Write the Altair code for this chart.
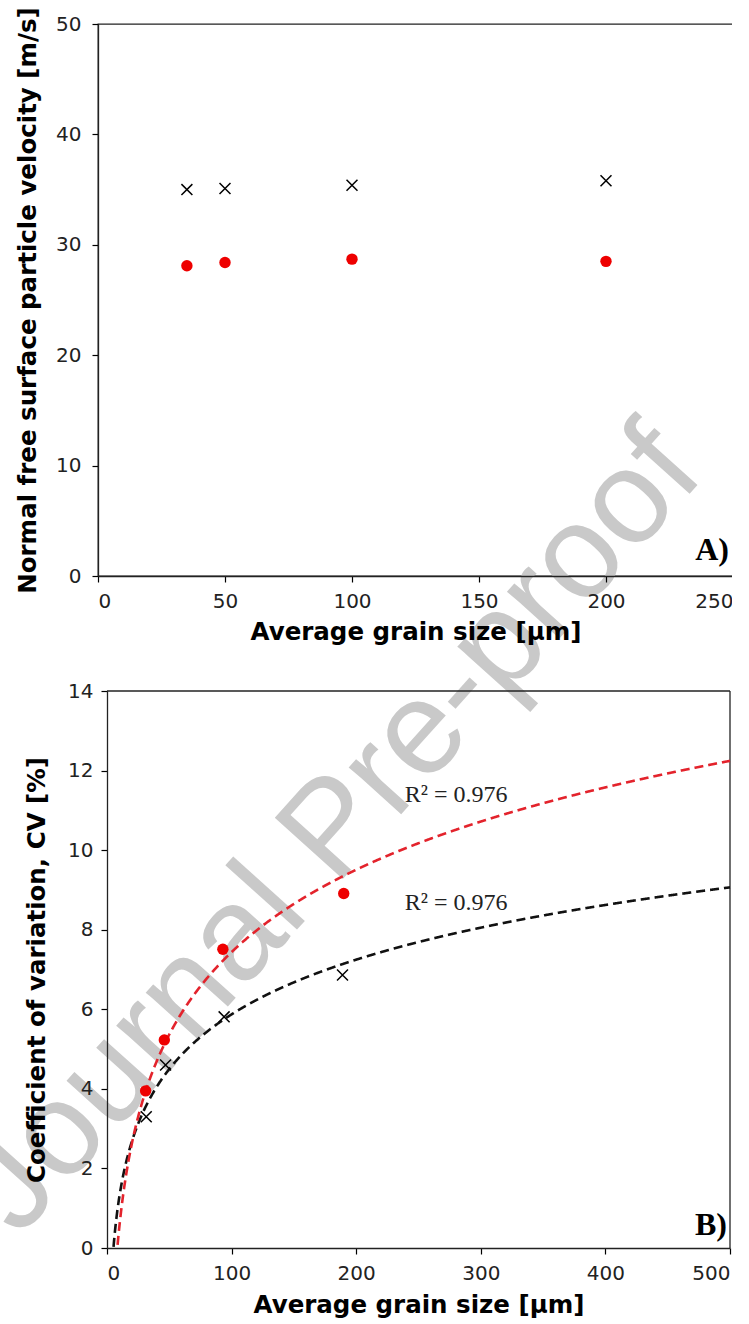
import altair as alt
import pandas as pd

# ---- Panel A: normal free surface particle velocity vs grain size ----
grain_a = [35, 50, 100, 200]
vel_cross = [35.0, 35.1, 35.4, 35.8]
vel_dot = [28.1, 28.4, 28.7, 28.5]

# ---- Panel B: coefficient of variation vs grain size ----
grain_b_dot = [31, 46, 93, 190]
cv_dot = [3.95, 5.23, 7.51, 8.91]
grain_b_cross = [31.5, 47, 94, 189]
cv_cross = [3.3, 4.6, 5.81, 6.86]

# logarithmic fits  CV = a * ln(d) + b
fit_a = [2.986, 1.983]          # [red circles, black crosses]
fit_b = [-6.313, -3.259]
r2_text = ["R\u00b2 = 0.976", "R\u00b2 = 0.976"]
r2_x = [239, 239]
r2_y = [11.2, 8.5]

RED = "#ee0000"
RED_LINE = "#e3232c"
X_PATH = "M-1,-1L1,1M-1,1L1,-1"

W_A, H_A = 635, 552
W_B, H_B = 632, 557
SHIFT_B = 9  # panel B's axis origin sits a little right of panel A's

axis_style = dict(
    labelFont="DejaVu Sans", labelFontSize=20, labelColor="#222",
    titleFont="DejaVu Sans", titleFontSize=24.5, titleFontWeight="bold",
    titleColor="black", tickColor="black", tickSize=6, tickWidth=1.2,
    domainColor="#222", domainWidth=1.3, grid=False, zindex=1,
)

# ------------------------------ Panel A ------------------------------
df_a = pd.DataFrame({
    "grain": grain_a + grain_a,
    "velocity": vel_dot + vel_cross,
    "kind": ["dot"] * 4 + ["cross"] * 4,
})

xa = alt.X("grain:Q", scale=alt.Scale(domain=[0, 250], nice=False),
           axis=alt.Axis(values=[0, 50, 100, 150, 200, 250],
                         title="Average grain size [\u03bcm]",
                         labelPadding=9, titlePadding=9, **axis_style))
ya = alt.Y("velocity:Q", scale=alt.Scale(domain=[0, 50], nice=False),
           axis=alt.Axis(values=[0, 10, 20, 30, 40, 50],
                         title="Normal free surface particle velocity [m/s]",
                         labelPadding=11, titlePadding=15, **axis_style))

watermark = alt.Chart(pd.DataFrame({"t": ["Journal Pre-proof"]})).mark_text(
    angle=312, fontSize=133, font="Liberation Sans", color="#c9c9c9",
    align="center", baseline="middle",
).encode(x=alt.value(235), y=alt.value(806), text="t:N")

dots_a = alt.Chart(df_a).transform_filter("datum.kind == 'dot'").mark_point(
    shape="circle", filled=True, color=RED, size=130, opacity=1
).encode(x=xa, y=ya)

cross_a = alt.Chart(df_a).transform_filter("datum.kind == 'cross'").mark_point(
    shape=X_PATH, filled=False, stroke="black", strokeWidth=1.5, size=120, opacity=1
).encode(x=xa, y=ya)

label_a = alt.Chart(pd.DataFrame({"t": ["A)"]})).mark_text(
    font="Liberation Serif", fontWeight="bold", fontSize=32, color="black",
    align="right", baseline="alphabetic",
).encode(x=alt.value(W_A - 4), y=alt.value(H_A - 16), text="t:N")

panel_a = alt.layer(watermark, dots_a, cross_a, label_a).properties(
    width=W_A, height=H_A,
    view=alt.ViewBackground(stroke="#222", strokeWidth=1.3),
)

# ------------------------------ Panel B ------------------------------
df_b = pd.DataFrame({
    "grain": grain_b_dot + grain_b_cross,
    "cv": cv_dot + cv_cross,
    "kind": ["dot"] * 4 + ["cross"] * 4,
})

xb = alt.X("grain:Q", scale=alt.Scale(domain=[0, 500], range=[SHIFT_B, W_B], nice=False),
           axis=alt.Axis(values=[0, 100, 200, 300, 400, 500],
                         title="Average grain size [\u03bcm]",
                         labelPadding=9, titlePadding=10, **axis_style))
yb = alt.Y("cv:Q", scale=alt.Scale(domain=[0, 14], nice=False),
           axis=alt.Axis(values=[0, 2, 4, 6, 8, 10, 12, 14],
                         title="Coefficient of variation, CV [%]",
                         offset=-SHIFT_B,
                         labelPadding=8, titlePadding=18, **axis_style))

def fit_curve(i, color):
    return alt.Chart(alt.sequence(1, 500.01, 0.25, as_="grain")).transform_calculate(
        cv=f"{fit_a[i]} * log(datum.grain) + ({fit_b[i]})"
    ).transform_filter("datum.cv >= 0").mark_line(
        color=color, strokeDash=[9, 5], strokeWidth=2.6
    ).encode(x=xb, y=yb)

curve_black = fit_curve(1, "#111111")
curve_red = fit_curve(0, RED_LINE)

dots_b = alt.Chart(df_b).transform_filter("datum.kind == 'dot'").mark_point(
    shape="circle", filled=True, color=RED, size=130, opacity=1
).encode(x=xb, y=yb)

cross_b = alt.Chart(df_b).transform_filter("datum.kind == 'cross'").mark_point(
    shape=X_PATH, filled=False, stroke="black", strokeWidth=1.5, size=120, opacity=1
).encode(x=xb, y=yb)

r2 = alt.Chart(pd.DataFrame({"grain": r2_x, "cv": r2_y, "t": r2_text})).mark_text(
    font="Liberation Serif", fontSize=24, color="#222",
    align="left", baseline="alphabetic",
).encode(x=xb, y=yb, text="t:N")

# top and right spines of panel B
frame_top = alt.Chart(pd.DataFrame({"grain": [0], "grain2": [500], "cv": [14]})).mark_rule(
    color="#222", strokeWidth=1.3
).encode(x=xb, x2="grain2:Q", y=yb)
frame_right = alt.Chart(pd.DataFrame({"grain": [500], "cv": [0], "cv2": [14]})).mark_rule(
    color="#222", strokeWidth=1.3
).encode(x=xb, y=yb, y2="cv2:Q")

label_b = alt.Chart(pd.DataFrame({"t": ["B)"]})).mark_text(
    font="Liberation Serif", fontWeight="bold", fontSize=32, color="black",
    align="right", baseline="alphabetic",
).encode(x=alt.value(W_B - 3), y=alt.value(H_B - 13), text="t:N")

panel_b = alt.layer(
    frame_top, frame_right, curve_black, curve_red, dots_b, cross_b, r2, label_b
).properties(
    width=W_B, height=H_B,
    view=alt.ViewBackground(stroke="transparent"),
)

chart = alt.vconcat(panel_a, panel_b, spacing=115, bounds="flush").properties(
    padding={"left": -61, "top": 6, "right": -4, "bottom": 2},
).configure(background="white")

chart.save("out.html", embed_options={"renderer": "svg", "actions": False})
